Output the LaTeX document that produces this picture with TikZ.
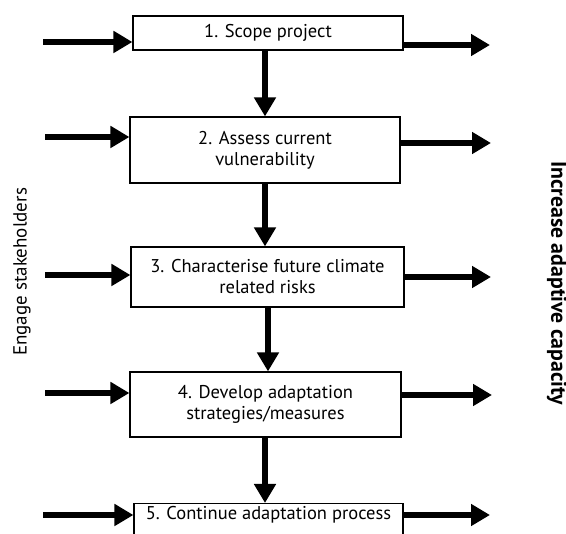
\documentclass[tikz,border=0pt]{standalone}
\usepackage{fontspec}
\setmainfont{PT Sans}
\usetikzlibrary{arrows.meta}
\begin{document}
\begin{tikzpicture}[x=1pt,y=-1pt,
  stepbox/.style={draw,line width=1.1pt,align=center,inner sep=0pt,font=\fontsize{18.5}{21}\selectfont},
  arr/.style={line width=5.5pt,-{Triangle[length=19pt,width=21pt]}},
  side/.style={font=\fontsize{19}{22}\selectfont}]
\useasboundingbox (0,0) rectangle (566,534);
\clip (0,0) rectangle (566,534);
\node[stepbox,minimum width=270pt,minimum height=34pt] (b1) at (268,33) {1. Scope project};
\node[stepbox,minimum width=270pt,minimum height=66pt] (b2) at (265,150) {2. Assess current\\vulnerability};
\node[stepbox,minimum width=273pt,minimum height=60pt] (b3) at (267.5,277) {3. Characterise future climate\\related risks};
\node[stepbox,minimum width=271pt,minimum height=65pt] (b4) at (265.5,404.5) {4. Develop adaptation\\strategies/measures};
\node[stepbox,minimum width=269pt,minimum height=34pt,anchor=north] (b5) at (268.5,503) {};
\node[font=\fontsize{18.5}{21}\selectfont] (t5) at (268.5,515) {5. Continue adaptation process};
% left arrows
\coordinate (l1) at (43,42);
\coordinate (l2) at (45,137);
\coordinate (l3) at (45,275);
\coordinate (l4) at (45,393);
\coordinate (l5) at (43,515);
\draw[arr] (l1) -- (l1 -| b1.west);
\draw[arr] (l2) -- (l2 -| b2.west);
\draw[arr] (l3) -- (l3 -| b3.west);
\draw[arr] (l4) -- (l4 -| b4.west);
\draw[arr] (l5) -- (l5 -| b5.west);
% right arrows
\coordinate (r1) at (490,45);
\coordinate (r2) at (491,143);
\coordinate (r3) at (491,277);
\coordinate (r4) at (492,395);
\coordinate (r5) at (490,515);
\draw[arr] (r1 -| b1.east) -- (r1);
\draw[arr] (r2 -| b2.east) -- (r2);
\draw[arr] (r3 -| b3.east) -- (r3);
\draw[arr] (r4 -| b4.east) -- (r4);
\draw[arr] (r5 -| b5.east) -- (r5);
% vertical arrows
\coordinate (v1) at (265,0);
\coordinate (v3) at (268,0);
\draw[arr] (v1 |- b1.south) -- (v1 |- b2.north);
\draw[arr] (v1 |- b2.south) -- (v1 |- b3.north);
\draw[arr] (v3 |- b3.south) -- (v3 |- b4.north);
\draw[arr] (v1 |- b4.south) -- (v1 |- b5.north);
% side labels
\node[side,rotate=90] (eng) at (22,272) {Engage stakeholders};
\node[side,rotate=-90,font=\bfseries\fontsize{21.8}{24}\selectfont] (inc) at (557,283) {Increase adaptive capacity};
\end{tikzpicture}
\end{document}
